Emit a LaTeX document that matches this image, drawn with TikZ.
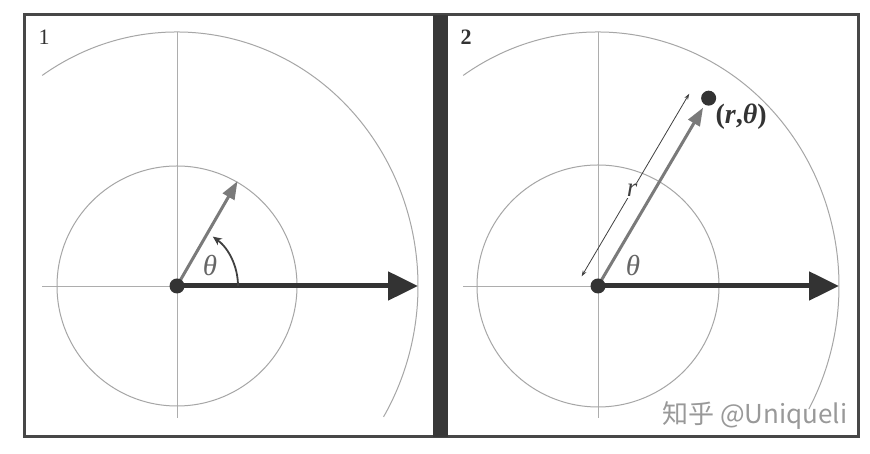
\documentclass[tikz,border=0pt]{standalone}
\usepackage{fontspec}
\newfontfamily\cjk{Noto Sans CJK SC}
\newfontfamily\tms{Liberation Serif}
\usetikzlibrary{arrows.meta}
\begin{document}
\begin{tikzpicture}[x=1pt,y=1pt,
  frame/.style={draw=black!72, line width=3},
  axis/.style={draw=black!32, line width=0.7},
  orbit/.style={draw=black!35, line width=1},
  bigarrow/.style={draw=black!80, line width=5, -{Triangle[length=30,width=28]}},
  vec/.style={draw=black!52, line width=3, -{Triangle[length=18,width=13]}},
  angarrow/.style={draw=black!75, line width=1.8, -{Stealth[length=9,width=8]}},
  dim/.style={draw=black!75, line width=0.8, {Stealth[length=6,width=4]}-{Stealth[length=6,width=4]}},
  dot/.style={circle, fill=black!80, inner sep=0, minimum size=15},
  thlabel/.style={text=black!60, font=\tms\itshape\fontsize{29}{29}\selectfont},
  numlabel/.style={text=black!80, font=\tms\fontsize{22}{22}\selectfont},
  ptlabel/.style={text=black!80, font=\tms\bfseries\fontsize{28}{28}\selectfont},
  rlabel/.style={text=black!75, fill=white, inner sep=1, font=\tms\itshape\fontsize{27}{27}\selectfont},
  wm/.style={text=black!40, font=\cjk\fontsize{26}{26}\selectfont}]
\useasboundingbox (0,0) rectangle (870,454);
\fill[white] (0,0) rectangle (870,454);
% frame and separator
\draw[frame] (24,17) rectangle (858,439);
\fill[black!78] (433,17) rectangle (448,439);

% ---------- panel 1 ----------
\coordinate (L) at (177,168);
\coordinate (Lw) at (42,168);
\coordinate (Lt) at (177,422);
\coordinate (Lb) at (177,36);
\draw[axis] (Lw) -- (L);
\draw[axis] (Lt) -- (Lb);
\draw[orbit] (L) circle[radius=120];
\draw[orbit] (L) ++(124:241 and 254) arc[start angle=124, end angle=-31, x radius=241, y radius=254];
\coordinate (Lx) at (418,168);
\draw[bigarrow] (L) -- (Lx);
\path (L) ++(60:121) coordinate (Lv);
\draw[vec] (L) -- (Lv);
\draw[angarrow] (L) ++(0:61) arc[start angle=0, end angle=54, radius=61];
\node[dot] (Ldot) at (L) {};
\node[thlabel] (Lth) at (210,188) {θ};
\node[numlabel] (n1) at (44,417) {1};

% ---------- panel 2 ----------
\coordinate (R) at (598,168);
\coordinate (Rw) at (463,168);
\coordinate (Rt) at (598,422);
\coordinate (Rb) at (598,36);
\draw[axis] (Rw) -- (R);
\draw[axis] (Rt) -- (Rb);
\draw[orbit] (R) circle[radius=121];
\draw[orbit] (R) ++(124:241 and 254) arc[start angle=124, end angle=-29, x radius=241, y radius=254];
\coordinate (Rx) at (839,168);
\draw[bigarrow] (R) -- (Rx);
\path (R) ++(59.5:207) coordinate (Rv);
\draw[vec] (R) -- (Rv);
\path (R) ++(149.5:19) coordinate (D0);
\path (D0) ++(59.5:212) coordinate (D1);
\draw[dim] (D0) -- node[rlabel, pos=0.47] (rl) {r} (D1);
\node[dot] (Rdot) at (R) {};
\path (R) ++(59.5:218) coordinate (P);
\node[dot] (Pdot) at (P) {};
\node[ptlabel, anchor=west] (pl) at (712,337) {(\textit{r},\textit{θ})};
\node[thlabel] (Rth) at (633,188) {θ};
\node[numlabel, font=\tms\bfseries\fontsize{22}{22}\selectfont] (n2) at (466,417) {2};

% watermark
\node[wm] (wmk) at (755,38) {知乎 @Uniqueli};
\end{tikzpicture}
\end{document}
